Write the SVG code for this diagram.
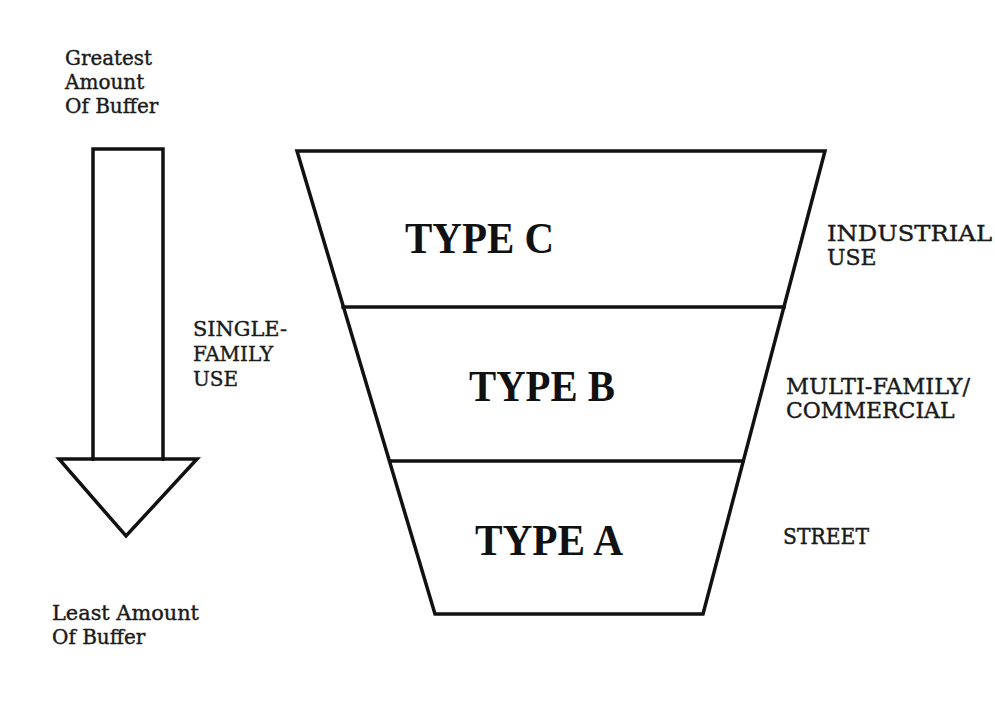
<svg xmlns="http://www.w3.org/2000/svg" width="995" height="716" viewBox="0 0 995 716">
<style>
.ln{fill:none;stroke:#111;stroke-width:3.5;stroke-linejoin:miter;stroke-linecap:square}
.sm{font-family:"DejaVu Serif","Liberation Serif",serif;font-size:20px;fill:#1a1a1a;stroke:#1a1a1a;stroke-width:0.4}
.md{font-family:"DejaVu Serif","Liberation Serif",serif;font-size:22px;fill:#1a1a1a;stroke:#1a1a1a;stroke-width:0.4}
.big{font-family:"Liberation Serif","Times New Roman",serif;font-size:45px;font-weight:bold;fill:#111}
</style>
<rect width="995" height="716" fill="#fff"/>
<g id="arrow">
<path class="ln" d="M93,459 L93,149 L163,149 L163,459"/>
<path class="ln" d="M59,459 L197,459 L126,536 Z"/>
</g>
<g id="funnel">
<path class="ln" d="M297,151 L825,151 L703,614 L435,614 Z"/>
</g>
<g id="connectors">
<line class="ln" x1="343" y1="307" x2="784" y2="307"/>
<line class="ln" x1="390" y1="461" x2="743" y2="461"/>
</g>
<g id="type-c"><text class="big" x="405" y="253" textLength="149" lengthAdjust="spacingAndGlyphs">TYPE C</text></g>
<g id="type-b"><text class="big" x="469" y="401" textLength="146" lengthAdjust="spacingAndGlyphs">TYPE B</text></g>
<g id="type-a"><text class="big" x="475" y="555" textLength="148" lengthAdjust="spacingAndGlyphs">TYPE A</text></g>
<g id="greatest">
<text class="sm" x="65" y="65" textLength="87" lengthAdjust="spacingAndGlyphs">Greatest</text>
<text class="sm" x="65" y="89">Amount</text>
<text class="sm" x="65" y="113">Of Buffer</text>
</g>
<g id="least">
<text class="sm" x="52" y="620" textLength="147" lengthAdjust="spacingAndGlyphs">Least Amount</text>
<text class="sm" x="52" y="644">Of Buffer</text>
</g>
<g id="single-family">
<text class="sm" x="193" y="336" textLength="94" lengthAdjust="spacingAndGlyphs">SINGLE-</text>
<text class="sm" x="193" y="361">FAMILY</text>
<text class="sm" x="193" y="386">USE</text>
</g>
<g id="industrial">
<text class="md" x="827" y="241" textLength="165" lengthAdjust="spacingAndGlyphs">INDUSTRIAL</text>
<text class="md" x="827" y="265">USE</text>
</g>
<g id="multi-family">
<text class="md" x="786" y="394" textLength="184" lengthAdjust="spacingAndGlyphs">MULTI-FAMILY/</text>
<text class="md" x="786" y="418">COMMERCIAL</text>
</g>
<g id="street">
<text class="md" x="783" y="544" textLength="86" lengthAdjust="spacingAndGlyphs">STREET</text>
</g>
</svg>
